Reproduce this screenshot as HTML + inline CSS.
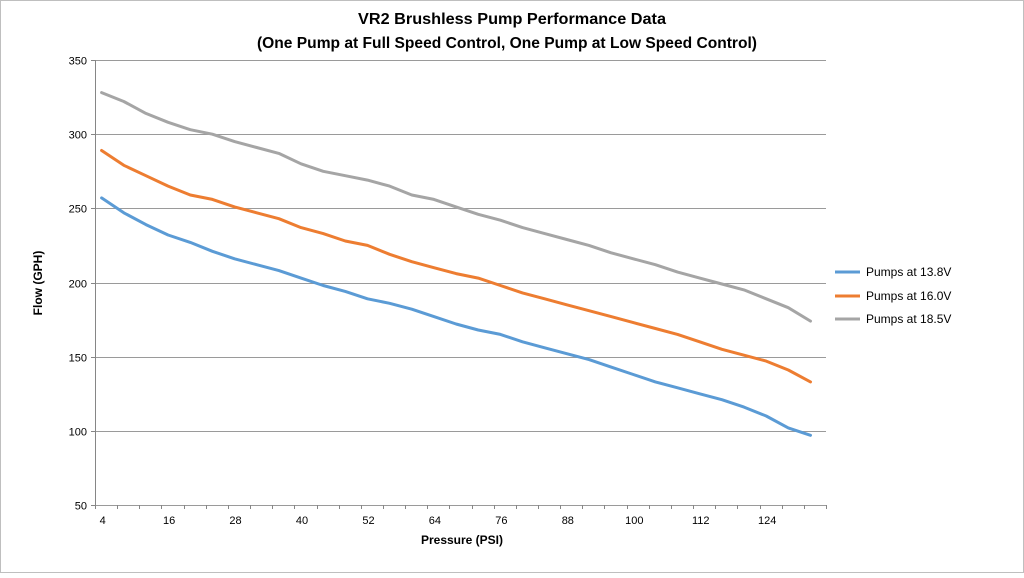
<!DOCTYPE html>
<html><head><meta charset="utf-8"><style>
html,body{margin:0;padding:0;background:#fff;}
svg text{font-family:"Liberation Sans",Calibri,sans-serif;fill:#000;}
</style></head><body>
<svg id="s" width="1024" height="573" viewBox="0 0 1024 573" xmlns="http://www.w3.org/2000/svg">
<rect x="0.5" y="0.5" width="1023" height="572" fill="#fff" stroke="#bfbfbf"/>
<text x="512" y="24" font-size="16" font-weight="bold" text-anchor="middle" textLength="308" lengthAdjust="spacingAndGlyphs">VR2 Brushless Pump Performance Data</text>
<text x="507" y="48" font-size="16" font-weight="bold" text-anchor="middle" textLength="500" lengthAdjust="spacingAndGlyphs">(One Pump at Full Speed Control, One Pump at Low Speed Control)</text>
<g id="grid"></g>
<text x="462" y="544" font-size="12" font-weight="bold" text-anchor="middle">Pressure (PSI)</text>
<text transform="translate(42,283) rotate(-90)" font-size="12" font-weight="bold" text-anchor="middle">Flow (GPH)</text>
<g id="series"></g>
<g font-size="12">
<line x1="835" y1="272" x2="860" y2="272" stroke="#5b9bd5" stroke-width="3"/>
<text x="866" y="276">Pumps at 13.8V</text>
<line x1="835" y1="296" x2="860" y2="296" stroke="#ed7d31" stroke-width="3"/>
<text x="866" y="300">Pumps at 16.0V</text>
<line x1="835" y1="319" x2="860" y2="319" stroke="#a5a5a5" stroke-width="3"/>
<text x="866" y="323">Pumps at 18.5V</text>
</g>
</svg>
<script>
var NS="http://www.w3.org/2000/svg";
function el(t,a,p,txt){var e=document.createElementNS(NS,t);for(var k in a)e.setAttribute(k,a[k]);if(txt)e.textContent=txt;p.appendChild(e);return e;}
var g=document.getElementById("grid"),sg=document.getElementById("series");
var L=95,R=826,T=60,B=505;
function Y(v){return B-(v-50)*(B-T)/300;}
for(var v=50;v<=350;v+=50){var y=Math.round(Y(v))+0.5;
 el("line",{x1:L,y1:y,x2:R,y2:y,stroke:"#9a9a9a","stroke-width":1},g);
 el("line",{x1:L-4,y1:y,x2:L,y2:y,stroke:"#868686"},g);
 el("text",{x:L-8,y:y+4,"font-size":11,"text-anchor":"end"},g,""+v);}
el("line",{x1:L+0.5,y1:T,x2:L+0.5,y2:B,stroke:"#868686"},g);
var n=33,cw=(R-L)/n;
function X(i){return L+cw*(i+0.3);}
for(var i=0;i<=n;i++){var x=Math.round(L+cw*i)+0.5;el("line",{x1:x,y1:B,x2:x,y2:B+4,stroke:"#868686"},g);}
for(var i=0;i<n;i+=3){el("text",{x:X(i)+1,y:B+19,"font-size":11,"text-anchor":"middle"},g,""+(4+4*i));}
var d=[
["#a5a5a5",[328,322,314,308,303,300,295,291,287,280,275,272,269,265,259,256,251,246,242,237,233,229,225,220,216,212,207,203,199,195,189,183,174]],
["#ed7d31",[289,279,272,265,259,256,251,247,243,237,233,228,225,219,214,210,206,203,198,193,189,185,181,177,173,169,165,160,155,151,147,141,133]],
["#5b9bd5",[257,247,239,232,227,221,216,212,208,203,198,194,189,186,182,177,172,168,165,160,156,152,148,143,138,133,129,125,121,116,110,102,97]]];
d.forEach(function(s){var p=s[1].map(function(v,i){return X(i).toFixed(1)+","+Y(v).toFixed(1);}).join(" ");
 el("polyline",{points:p,fill:"none",stroke:s[0],"stroke-width":3,"stroke-linejoin":"round","stroke-linecap":"round"},sg);});
</script>
</body></html>
